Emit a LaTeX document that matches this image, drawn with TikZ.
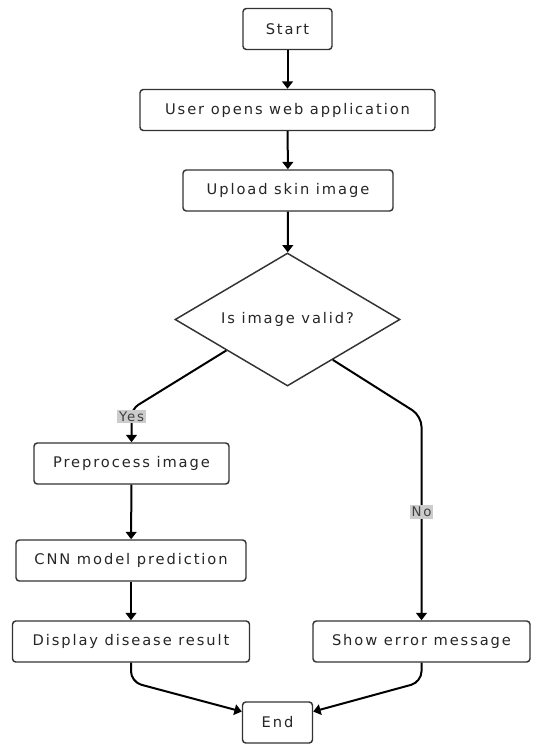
\documentclass[tikz,border=0pt]{standalone}
\usepackage{fontspec}
\setmainfont[LetterSpace=13]{DejaVu Sans}
\usepackage{tikz}
\usetikzlibrary{arrows.meta,positioning,calc,shapes.geometric}

\begin{document}
\begin{tikzpicture}[x=0.75pt,y=-0.75pt,
	box/.style={draw=black!80, line width=1.1pt, rounded corners=2.5pt, fill=white,
		text=black!85, font=\fontsize{11}{13}\selectfont, inner sep=0pt, minimum height=30.75pt},
	check/.style={diamond, aspect=1.69, draw=black!80, line width=1.1pt, fill=white, text=black!85,
		font=\fontsize{11}{13}\selectfont, inner sep=0pt, minimum width=168.75pt, minimum height=99.75pt},
	lbl/.style={sharp corners, fill=black!20, text=black!75, inner sep=1.2pt, font=\fontsize{10}{11}\selectfont},
	flow/.style={line width=1.5pt, -{Triangle[length=5.5pt,width=8pt]}}]
		\useasboundingbox (0,0) rectangle (542,744);

		% Draw the steps
		\node[box, minimum width=66.75pt]  (start)  at (287.5,29)   {Start};
		\node[box, minimum width=221.25pt] (open)   at (287.5,110)  {User opens web application};
		\node[box, minimum width=157.5pt]  (upload) at (288,190.5)  {Upload skin image};
		\node[check]                       (valid)  at (287.5,319.5) {Is image valid?};
		\node[box, minimum width=146.25pt] (prep)   at (131.5,463.5) {Preprocess image};
		\node[box, minimum width=172.5pt]  (cnn)    at (131,560.5)  {CNN model prediction};
		\node[box, minimum width=177.75pt] (disp)   at (131,641.5)  {Display disease result};
		\node[box, minimum width=162.75pt] (err)    at (421.5,641.5) {Show error message};
		\node[box, minimum width=52.5pt]   (end)    at (277.5,722.5) {End};

		% Bend points
		\coordinate (yesbend) at (131.5,409);
		\coordinate (nobend)  at (421.5,416);
		\coordinate (leftdrop)  at (131,682);
		\coordinate (rightdrop) at (421.5,682);

		% Connect the steps
		\draw[flow] (start) -- (open);
		\draw[flow] (open) -- (upload);
		\draw[flow] (upload) -- (valid);
		\draw[flow, rounded corners=6pt] ($(valid.west)!0.46!(valid.south)$) -- (yesbend)
			-- node[lbl, pos=0.22] {Yes} (prep);
		\draw[flow, rounded corners=8pt] ($(valid.east)!0.6!(valid.south)$) -- (nobend)
			-- node[lbl, pos=0.47] {No} (err);
		\draw[flow] (prep) -- (cnn);
		\draw[flow] (cnn) -- (disp);
		\draw[flow, rounded corners=8pt] (disp) -- (leftdrop) -- (end.163);
		\draw[flow, rounded corners=8pt] (err) -- (rightdrop) -- (end.17);
	\end{tikzpicture}
\end{document}
